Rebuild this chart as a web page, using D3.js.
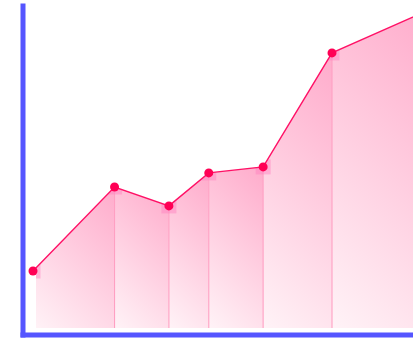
<!DOCTYPE html>
<html>
<head>
<meta charset="utf-8">
<script src="https://cdn.jsdelivr.net/npm/d3@7"></script>
<style>
  html, body { margin: 0; padding: 0; background: #fff; }
  svg { display: block; }
</style>
</head>
<body>
<div id="viz"></div>
<script>
var width = 413,
    height = 339;

// data
var days = [1, 10, 16, 20.4, 26.4, 34, 45];
var values = [19, 47, 40.7, 51.7, 53.7, 91.7, 106.4];

var lineColor = '#ff1166',
    dotColor = '#ff0055',
    axisColor = '#5555ff';

var x = d3.scaleLinear().domain([1, 34]).range([33, 332]);
var y = d3.scaleLinear().domain([0, 100]).range([328, 28]);

var points = days.map(function(d, i) { return { x: d, y: values[i] }; });

var svg = d3.select('#viz')
  .append('svg')
  .attr('width', width)
  .attr('height', height);

var defs = svg.append('defs');

// clip plot region
defs.append('clipPath')
  .attr('id', 'plot')
  .append('rect')
  .attr('x', 36)
  .attr('y', 0)
  .attr('width', width - 36)
  .attr('height', 328);

var area = d3.area()
  .x(function(d) { return x(d.x); })
  .y0(y(0))
  .y1(function(d) { return y(d.y); });

defs.append('clipPath')
  .attr('id', 'areaClip')
  .append('path')
  .attr('d', area(points));

var g = svg.append('g').attr('clip-path', 'url(#plot)');

// one gradient-filled piece per segment, gradient at 45 degrees
var segs = d3.pairs(points);

segs.forEach(function(s, i) {
  var x0 = x(s[0].x), x1 = x(s[1].x);
  var top = Math.min(y(s[0].y), y(s[1].y));
  var w = x1 - x0, h = y(0) - top;
  var L = (w + h) / 2;

  var grad = defs.append('linearGradient')
    .attr('id', 'grad' + i)
    .attr('gradientUnits', 'userSpaceOnUse')
    .attr('x1', x0).attr('y1', y(0))
    .attr('x2', x0 + L).attr('y2', y(0) - L);
  grad.append('stop').attr('offset', '0%').attr('stop-color', '#fff3f7');
  grad.append('stop').attr('offset', '100%').attr('stop-color', '#ffabcb');

  g.append('path')
    .attr('d', area(s))
    .attr('fill', 'url(#grad' + i + ')');
});

// vertical lines
g.selectAll('line.v')
  .data(points)
  .enter().append('line')
  .attr('class', 'v')
  .attr('x1', function(d) { return x(d.x); })
  .attr('x2', function(d) { return x(d.x); })
  .attr('y1', function(d) { return y(d.y); })
  .attr('y2', y(0))
  .attr('stroke', '#ffa0c3')
  .attr('stroke-width', 1.1);

// squares under points, only below the line
var sq = g.append('g').attr('clip-path', 'url(#areaClip)');
sq.selectAll('rect')
  .data(points)
  .enter().append('rect')
  .attr('x', function(d) { return x(d.x) - 7.5; })
  .attr('y', function(d) { return y(d.y) - 7.5; })
  .attr('width', 15)
  .attr('height', 15)
  .attr('fill', '#ff7fbf')
  .attr('opacity', 0.45);

// line
var line = d3.line()
  .x(function(d) { return x(d.x); })
  .y(function(d) { return y(d.y); });

svg.append('path')
  .attr('d', line(points))
  .attr('fill', 'none')
  .attr('stroke', lineColor)
  .attr('stroke-width', 1.4);

svg.selectAll('circle')
  .data(points)
  .enter().append('circle')
  .attr('cx', function(d) { return x(d.x); })
  .attr('cy', function(d) { return y(d.y); })
  .attr('r', 4.5)
  .attr('fill', dotColor);

// axes (no ticks, thick domain)
var yAxisScale = d3.scaleLinear().domain([0, 1]).range([337, 3]);
var xAxisScale = d3.scaleLinear().domain([0, 1]).range([20, width]);

svg.append('g')
  .attr('transform', 'translate(22.5,0)')
  .call(d3.axisLeft(yAxisScale).tickValues([]).tickSizeOuter(0))
  .select('.domain')
  .attr('stroke', axisColor)
  .attr('stroke-width', 5);

svg.append('g')
  .attr('transform', 'translate(0,334.5)')
  .call(d3.axisBottom(xAxisScale).tickValues([]).tickSizeOuter(0))
  .select('.domain')
  .attr('stroke', axisColor)
  .attr('stroke-width', 5);
</script>
</body>
</html>
